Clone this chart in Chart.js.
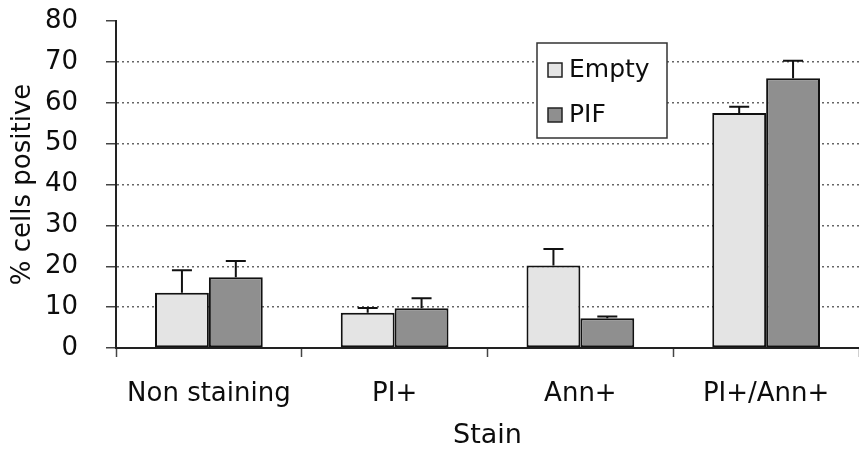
<!DOCTYPE html>
<html>
<head>
<meta charset="utf-8">
<script src="https://cdn.jsdelivr.net/npm/chart.js@4.4.1/dist/chart.umd.min.js"></script>
<style>
  html, body { margin: 0; padding: 0; background: #fff; }
  #wrap { width: 859px; height: 453px; }
</style>
</head>
<body>
<div id="wrap"><canvas id="myChart" width="859" height="453"></canvas></div>
<script>
var categories = ['Non staining', 'PI+', 'Ann+', 'PI+/Ann+'];
var emptyValues = [13.5, 8.6, 20.2, 57.5];
var emptyErrors = [5.5, 1.2, 4.0, 1.5];
var pifValues = [17.3, 9.7, 7.3, 66.0];
var pifErrors = [4.0, 2.5, 0.4, 4.3];
var seriesNames = ['Empty', 'PIF'];

var FONT = 'DejaVu Sans';
var TEXT = '#0d0d0d';

// upper error bars drawn on top of each bar
var errorBars = {
    id: 'errorBars',
    afterDatasetsDraw(chart) {
        var ctx = chart.ctx;
        var y = chart.scales.y;
        ctx.save();
        ctx.strokeStyle = '#111';
        ctx.lineWidth = 2;
        chart.data.datasets.forEach(function(ds, i) {
            chart.getDatasetMeta(i).data.forEach(function(bar, j) {
                var top = y.getPixelForValue(ds.data[j] + ds.errors[j]);
                ctx.beginPath();
                ctx.moveTo(bar.x, bar.y);
                ctx.lineTo(bar.x, top);
                ctx.moveTo(bar.x - 10, top);
                ctx.lineTo(bar.x + 10, top);
                ctx.stroke();
            });
        });
        ctx.restore();
    }
};

// boxed legend inside the plot
var boxLegend = {
    id: 'boxLegend',
    afterDraw(chart) {
        var ctx = chart.ctx;
        var a = chart.chartArea;
        var left = a.left + 421, top = a.top + 22;
        ctx.save();
        ctx.fillStyle = '#fff';
        ctx.fillRect(left, top, 130, 95);
        ctx.strokeStyle = '#333';
        ctx.lineWidth = 1.5;
        ctx.strokeRect(left, top, 130, 95);
        ctx.font = '25px ' + FONT;
        ctx.textBaseline = 'middle';
        chart.data.datasets.forEach(function(ds, i) {
            var cy = top + 27 + i * 45;
            ctx.fillStyle = ds.backgroundColor;
            ctx.fillRect(left + 11, cy - 7, 14, 14);
            ctx.strokeStyle = '#222';
            ctx.lineWidth = 1.5;
            ctx.strokeRect(left + 11, cy - 7, 14, 14);
            ctx.fillStyle = TEXT;
            ctx.fillText(ds.label, left + 32, cy);
        });
        ctx.restore();
    }
};

new Chart(document.getElementById('myChart').getContext('2d'), {
    type: 'bar',
    data: {
        labels: categories,
        datasets: [
            { label: seriesNames[0], data: emptyValues, errors: emptyErrors,
              backgroundColor: '#e4e4e4', borderColor: '#111', borderWidth: 2, borderSkipped: false },
            { label: seriesNames[1], data: pifValues, errors: pifErrors,
              backgroundColor: '#8f8f8f', borderColor: '#111', borderWidth: 2, borderSkipped: false }
        ]
    },
    options: {
        responsive: false,
        animation: false,
        layout: { padding: { top: 21, right: 0, left: 0, bottom: 0 } },
        datasets: { bar: { categoryPercentage: 0.58, barPercentage: 1.0 } },
        plugins: { legend: { display: false }, tooltip: { enabled: false } },
        scales: {
            x: {
                offset: true,
                grid: { offset: true, drawOnChartArea: false, tickLength: 9, tickColor: '#444', tickWidth: 1.5 },
                border: { color: '#222', width: 2 },
                ticks: { color: TEXT, font: { family: FONT, size: 26 }, padding: 22 },
                title: { display: true, text: 'Stain', color: TEXT, font: { family: FONT, size: 27 }, padding: { top: 0, bottom: 1 } },
                afterFit: function(s) { s.height = 105; s.paddingLeft = 0; s.paddingRight = 0; }
            },
            y: {
                min: 0, max: 80,
                ticks: { stepSize: 10, color: TEXT, font: { family: FONT, size: 26 }, padding: 28 },
                grid: {
                    color: function(c) { return (c.tick.value === 0 || c.tick.value === 80) ? 'rgba(0,0,0,0)' : '#666'; },
                    lineWidth: 1.5,
                    tickLength: 10, tickColor: '#444', tickBorderDash: [], tickWidth: 1.5
                },
                border: { color: '#222', width: 2, dash: [2, 3] },
                title: { display: true, text: '% cells positive', color: TEXT, font: { family: FONT, size: 26 }, padding: { top: 8, bottom: 2 } },
                afterFit: function(s) { s.width = 116; s.paddingTop = 0; s.paddingBottom = 0; }
            }
        }
    },
    plugins: [errorBars, boxLegend]
});
</script>
</body>
</html>
